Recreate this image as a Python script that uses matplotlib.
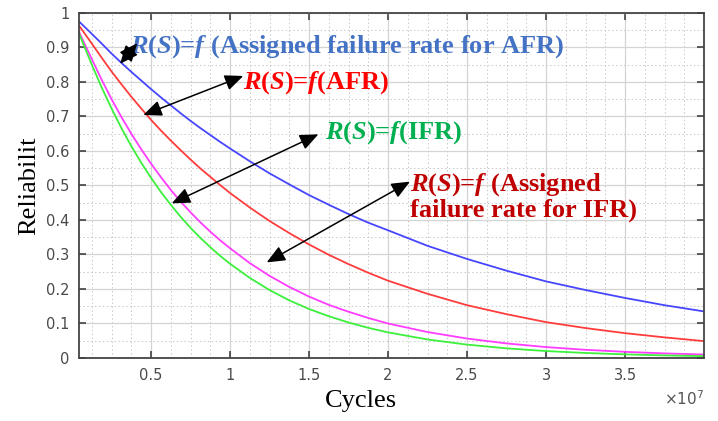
import numpy as np
import matplotlib
matplotlib.use('Agg')
import matplotlib.pyplot as plt
from matplotlib.ticker import FixedLocator

plt.rcParams['mathtext.fontset'] = 'custom'
plt.rcParams['mathtext.it'] = 'Liberation Serif:italic:bold'
plt.rcParams['mathtext.rm'] = 'Liberation Serif:bold'
plt.rcParams['mathtext.bf'] = 'Liberation Serif:bold'

# cycles, in units of 1e7
cycles = [0.044, 0.125, 0.1875, 0.25, 0.3125, 0.375, 0.4375, 0.5, 0.5625, 0.625,
          0.6875, 0.75, 0.8125, 0.875, 0.9375, 1.0, 1.125, 1.25, 1.375, 1.5,
          1.625, 1.75, 1.875, 2.0, 2.25, 2.5, 2.75, 3.0, 3.25, 3.5, 3.75, 4.0]

# reliability for the four cases
r_assigned_afr = [0.975, 0.939, 0.911, 0.882, 0.855, 0.829, 0.804, 0.779, 0.755,
                  0.732, 0.709, 0.687, 0.666, 0.646, 0.626, 0.607, 0.570, 0.535,
                  0.503, 0.472, 0.444, 0.417, 0.392, 0.370, 0.325, 0.287, 0.253,
                  0.222, 0.197, 0.174, 0.153, 0.135]
r_afr = [0.963, 0.911, 0.870, 0.830, 0.793, 0.757, 0.723, 0.690, 0.659, 0.630,
         0.602, 0.575, 0.549, 0.525, 0.501, 0.478, 0.436, 0.397, 0.362, 0.329,
         0.299, 0.272, 0.247, 0.224, 0.186, 0.153, 0.127, 0.104, 0.0868, 0.0720,
         0.0598, 0.0490]
r_assigned_ifr = [0.945, 0.866, 0.806, 0.750, 0.698, 0.650, 0.605, 0.563, 0.524,
                  0.487, 0.453, 0.422, 0.393, 0.366, 0.341, 0.318, 0.275, 0.238,
                  0.206, 0.178, 0.154, 0.134, 0.116, 0.100, 0.0752, 0.0564, 0.0423,
                  0.0317, 0.0238, 0.0179, 0.0134, 0.0101]
r_ifr = [0.940, 0.850, 0.784, 0.723, 0.666, 0.614, 0.566, 0.522, 0.481, 0.444,
         0.409, 0.377, 0.348, 0.321, 0.296, 0.273, 0.232, 0.197, 0.167, 0.142,
         0.121, 0.103, 0.0874, 0.0743, 0.0537, 0.0388, 0.0280, 0.0202, 0.0146,
         0.0106, 0.0076, 0.0055]

xticks = [0.5, 1, 1.5, 2, 2.5, 3, 3.5]
xtick_labels = ['0.5', '1', '1.5', '2', '2.5', '3', '3.5']
yticks = [0, 0.1, 0.2, 0.3, 0.4, 0.5, 0.6, 0.7, 0.8, 0.9, 1]
ytick_labels = ['0', '0.1', '0.2', '0.3', '0.4', '0.5', '0.6', '0.7', '0.8', '0.9', '1']

x = np.array(cycles) * 1e7

fig = plt.figure(figsize=(7.18, 4.21), dpi=100)
ax = fig.add_axes([0.110, 0.1496, 0.8705, 0.82])

ax.plot(x, r_assigned_afr, color='#4646ff', lw=1.3)
ax.plot(x, r_afr, color='#ff3c3c', lw=1.3)
ax.plot(x, r_assigned_ifr, color='#ff3cff', lw=1.3)
ax.plot(x, r_ifr, color='#3cf03c', lw=1.3)

ax.set_xlim(0.044e7, 4.0e7)
ax.set_ylim(0, 1)
ax.set_xticks(np.array(xticks) * 1e7)
ax.set_xticklabels(xtick_labels)
ax.set_yticks(yticks)
ax.set_yticklabels(ytick_labels)
ax.xaxis.set_minor_locator(FixedLocator(np.arange(0.125, 4.0, 0.125) * 1e7))
ax.yaxis.set_minor_locator(FixedLocator(np.arange(0.05, 1.0, 0.05)))

ax.grid(which='major', color='#d4d4d4', lw=0.9, ls='-')
ax.grid(which='minor', color='#c8c8c8', lw=0.7, ls=(0, (1.5, 2.5)))
ax.set_axisbelow(True)

ax.tick_params(which='major', direction='in', length=5, width=1.1, color='#333333',
               top=True, right=True, labelsize=10.5, labelcolor='#4a4a4a', pad=7)
ax.tick_params(which='minor', length=0)
for s in ax.spines.values():
    s.set_color('#444444')
    s.set_linewidth(1.3)

ax.set_xlabel('Cycles', family='Liberation Serif', fontsize=19)
ax.xaxis.set_label_coords(0.451, -0.094)
ax.set_ylabel('Reliabilit', family='Liberation Serif', fontsize=19, labelpad=4)
ax.text(1.0, -0.118, r'$\times10^{7}$', transform=ax.transAxes, ha='right', va='center',
        fontsize=11, color='#555555', math_fontfamily='dejavusans')

txt = dict(family='Liberation Serif', weight='bold', fontsize=19, ha='left', va='center')
ax.text(0.367e7, 0.901, r'$\mathit{R(S)}$=$\mathit{f}$ (Assigned failure rate for AFR)',
        color='#4472c4', **txt)
ax.text(1.082e7, 0.797, r'$\mathit{R(S)}$=$\mathit{f}$(AFR)', color='#ff0000', **txt)
ax.text(1.601e7, 0.652, r'$\mathit{R(S)}$=$\mathit{f}$(IFR)', color='#00b050', **txt)
ax.text(2.139e7, 0.468, r'$\mathit{R(S)}$=$\mathit{f}$ (Assigned' + '\nfailure rate for IFR)',
        color='#c00000', linespacing=1.05, **txt)

arrow = dict(arrowstyle='<|-|>,head_length=0.7,head_width=0.3', color='black',
             lw=1.1, shrinkA=0, shrinkB=0, mutation_scale=16)
for (x0, y0), (x1, y1) in [((0.304, 0.852), (0.413, 0.912)),
                           ((0.451, 0.704), (1.084, 0.817)),
                           ((0.631, 0.448), (1.559, 0.648)),
                           ((1.232, 0.277), (2.139, 0.511))]:
    ax.annotate('', xy=(x0 * 1e7, y0), xytext=(x1 * 1e7, y1), arrowprops=arrow)

fig.savefig('out.png', dpi=100)
